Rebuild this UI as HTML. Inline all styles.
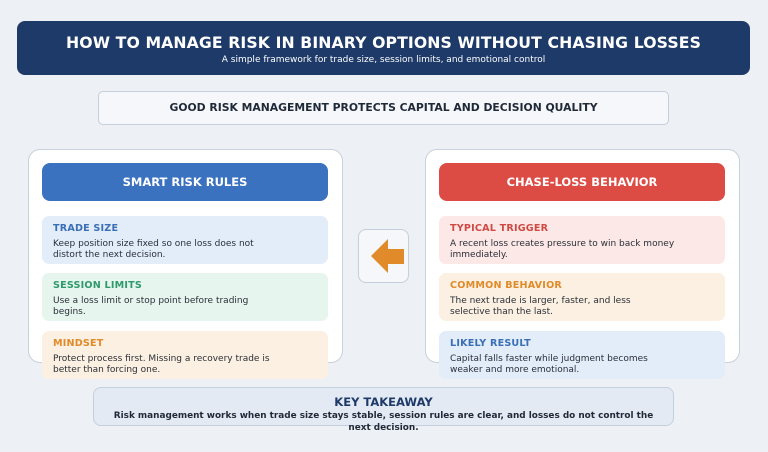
<!DOCTYPE html>
<html><head><meta charset="utf-8"><style>
*{margin:0;padding:0;box-sizing:border-box}
body{width:768px;height:452px;background:#edf0f4;font-family:"DejaVu Sans","Liberation Sans",sans-serif;position:relative;overflow:hidden}
.a{position:absolute}
.hdr{left:17px;top:21px;width:733px;height:54px;background:#1e3a68;border-radius:8px;color:#fff;text-align:center}
.hdr h1{font-size:15.7px;font-weight:bold;margin-top:12px;letter-spacing:0.1px}
.hdr p{font-size:9px;margin-top:3px}
.ban{left:98px;top:91px;width:571px;height:34px;background:#f5f7fa;border:1px solid #c5cfdb;border-radius:5px;font-size:10.8px;font-weight:bold;color:#1f2937;text-align:center;line-height:32px}
.pan{top:149px;width:315px;height:214px;background:#fff;border:1px solid #c9d1dc;border-radius:12px}
.ph{width:286px;height:38px;border-radius:8px;color:#fff;font-size:11.5px;font-weight:bold;text-align:center;line-height:38px;top:163px}
.card{width:286px;height:48px;border-radius:7px;padding:7px 11px}
.card b{display:block;font-size:9.6px;letter-spacing:0.2px}
.card span{display:block;font-size:9px;color:#2a2f38;line-height:11px;margin-top:5px;width:220px}
.arr{left:358px;top:229px;width:51px;height:54px;background:#f5f7fa;border:1px solid #c5cfdb;border-radius:8px}
.tk{left:93px;top:387px;width:581px;height:39px;background:#e4eaf3;border:1px solid #c5cfdb;border-radius:8px;text-align:center}
.tk b{display:block;font-size:11.5px;color:#1e3a68;margin-top:7px}
.tk span{display:block;font-size:8.9px;font-weight:bold;color:#1f2937;line-height:12px;margin-top:1px;white-space:nowrap}
</style></head><body>
<div class="a hdr">
<h1>HOW TO MANAGE RISK IN BINARY OPTIONS WITHOUT CHASING LOSSES</h1>
<p>A simple framework for trade size, session limits, and emotional control</p></div>
<div class="a ban">GOOD RISK MANAGEMENT PROTECTS CAPITAL AND DECISION QUALITY</div>

<div class="a pan" style="left:28px"></div>
<div class="a ph" style="left:42px;background:#3a72bf">SMART RISK RULES</div>
<div class="a card" style="left:42px;top:216px;background:#e3edfa"><b style="color:#3a6fb5">TRADE SIZE</b><span>Keep position size fixed so one loss does not distort the next decision.</span></div>
<div class="a card" style="left:42px;top:273px;background:#e6f5ee"><b style="color:#2e9a6a">SESSION LIMITS</b><span>Use a loss limit or stop point before trading begins.</span></div>
<div class="a card" style="left:42px;top:331px;background:#fbf0e1"><b style="color:#e08a2a">MINDSET</b><span>Protect process first. Missing a recovery trade is better than forcing one.</span></div>

<div class="a arr">
<svg width="51" height="54"><polygon points="12,26 29,9 29,19 45,19 45,34 29,34 29,43" fill="#e08a2a"/></svg></div>

<div class="a pan" style="left:425px"></div>
<div class="a ph" style="left:439px;background:#dc4b44">CHASE-LOSS BEHAVIOR</div>
<div class="a card" style="left:439px;top:216px;background:#fce8e6"><b style="color:#d04a44">TYPICAL TRIGGER</b><span style="width:230px">A recent loss creates pressure to win back money immediately.</span></div>
<div class="a card" style="left:439px;top:273px;background:#fbf0e1"><b style="color:#e08a2a">COMMON BEHAVIOR</b><span style="width:200px">The next trade is larger, faster, and less selective than the last.</span></div>
<div class="a card" style="left:439px;top:331px;background:#e3edfa"><b style="color:#3a6fb5">LIKELY RESULT</b><span>Capital falls faster while judgment becomes weaker and more emotional.</span></div>

<div class="a tk"><b>KEY TAKEAWAY</b><span>Risk management works when trade size stays stable, session rules are clear, and losses do not control the<br>next decision.</span></div>
</body></html>
